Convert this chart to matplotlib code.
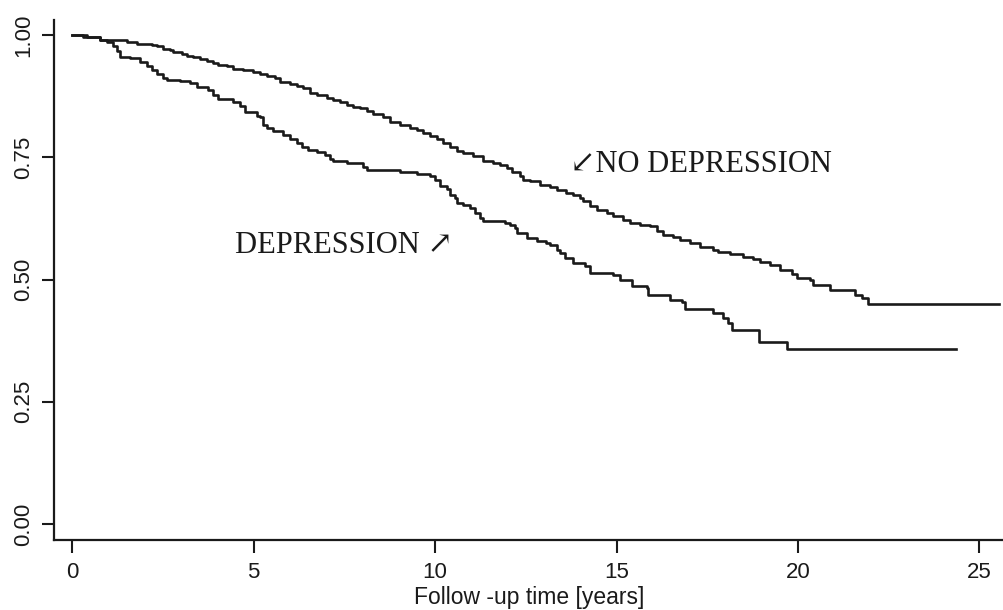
import matplotlib
matplotlib.use("Agg")
import matplotlib.pyplot as plt

# Kaplan-Meier style survival curves (time in years, survival)
t_nodep = [0.0, 0.30, 0.76, 1.13, 1.50, 1.77, 2.19, 2.33, 2.51, 2.69, 2.78, 3.02, 3.15,
           3.34, 3.52, 3.70, 3.89, 4.02, 4.26, 4.44, 4.71, 4.99, 5.17, 5.36, 5.59, 5.72,
           6.00, 6.18, 6.37, 6.55, 6.74, 7.01, 7.19, 7.38, 7.56, 7.75, 7.93, 8.11, 8.30,
           8.57, 8.76, 9.03, 9.31, 9.49, 9.67, 9.86, 10.04, 10.23, 10.41, 10.60, 10.78,
           11.05, 11.33, 11.60, 11.79, 11.97, 12.11, 12.34, 12.43, 12.62, 12.89, 13.17,
           13.35, 13.62, 13.81, 13.99, 14.08, 14.27, 14.45, 14.73, 14.91, 15.19, 15.37,
           15.65, 15.92, 16.11, 16.29, 16.57, 16.75, 17.03, 17.30, 17.67, 17.81, 18.13,
           18.50, 18.77, 18.96, 19.23, 19.51, 19.83, 19.97, 20.33, 20.42, 20.88, 21.57,
           21.76, 21.94, 25.55]
s_nodep = [1.000, 0.997, 0.991, 0.990, 0.985, 0.982, 0.980, 0.977, 0.971, 0.969, 0.965,
           0.962, 0.958, 0.955, 0.951, 0.948, 0.944, 0.939, 0.936, 0.930, 0.928, 0.924,
           0.921, 0.917, 0.912, 0.905, 0.900, 0.896, 0.892, 0.881, 0.878, 0.871, 0.868,
           0.864, 0.858, 0.853, 0.851, 0.844, 0.839, 0.832, 0.823, 0.817, 0.810, 0.806,
           0.800, 0.793, 0.787, 0.780, 0.772, 0.764, 0.759, 0.753, 0.742, 0.738, 0.735,
           0.728, 0.721, 0.711, 0.704, 0.701, 0.694, 0.689, 0.684, 0.678, 0.673, 0.667,
           0.660, 0.650, 0.643, 0.636, 0.630, 0.622, 0.615, 0.612, 0.609, 0.600, 0.592,
           0.587, 0.581, 0.575, 0.567, 0.561, 0.556, 0.553, 0.547, 0.542, 0.535, 0.529,
           0.519, 0.512, 0.503, 0.500, 0.488, 0.479, 0.469, 0.462, 0.450, 0.450]

t_dep = [0.0, 0.40, 0.76, 0.95, 1.13, 1.22, 1.31, 1.59, 1.87, 2.05, 2.19, 2.33, 2.51,
         2.60, 2.97, 3.24, 3.43, 3.75, 3.89, 4.02, 4.44, 4.62, 4.76, 5.08, 5.17, 5.27,
         5.36, 5.54, 5.82, 6.00, 6.18, 6.32, 6.50, 6.74, 6.97, 7.10, 7.19, 7.56, 8.02,
         8.11, 9.03, 9.49, 9.86, 10.00, 10.14, 10.32, 10.41, 10.55, 10.60, 10.78, 10.96,
         11.10, 11.24, 11.33, 11.93, 12.06, 12.20, 12.25, 12.52, 12.80, 13.07, 13.17,
         13.35, 13.44, 13.58, 13.81, 14.13, 14.27, 14.91, 15.10, 15.42, 15.83, 15.88,
         16.47, 16.80, 16.89, 17.67, 17.94, 18.08, 18.19, 18.93, 19.71, 24.36]
s_dep = [1.000, 0.997, 0.990, 0.985, 0.977, 0.967, 0.956, 0.953, 0.946, 0.937, 0.929,
         0.921, 0.912, 0.909, 0.907, 0.902, 0.894, 0.888, 0.878, 0.869, 0.864, 0.855,
         0.842, 0.835, 0.832, 0.817, 0.810, 0.803, 0.796, 0.787, 0.780, 0.772, 0.766,
         0.760, 0.755, 0.746, 0.742, 0.738, 0.731, 0.725, 0.721, 0.716, 0.711, 0.704,
         0.692, 0.685, 0.673, 0.667, 0.656, 0.653, 0.646, 0.636, 0.626, 0.619, 0.615,
         0.612, 0.605, 0.595, 0.585, 0.578, 0.575, 0.571, 0.561, 0.554, 0.544, 0.534,
         0.527, 0.513, 0.510, 0.500, 0.486, 0.483, 0.469, 0.459, 0.455, 0.440, 0.431,
         0.421, 0.411, 0.397, 0.373, 0.358, 0.358]

x_ticks = [0, 5, 10, 15, 20, 25]
y_ticks = [0.00, 0.25, 0.50, 0.75, 1.00]

plt.rcParams['font.family'] = ['Liberation Sans', 'DejaVu Sans']

fig = plt.figure(figsize=(10.04, 6.10), dpi=100)
ax = fig.add_axes([54 / 1004, 70 / 610, 950 / 1004, 520 / 610])

ax.step(t_nodep, s_nodep, where='post', color='#1a1a1a', lw=1.9)
ax.step(t_dep, s_dep, where='post', color='#1a1a1a', lw=1.9)

ax.set_xlim(-0.504, 25.68)
ax.set_ylim(-0.0327, 1.031)

for side in ['top', 'right']:
    ax.spines[side].set_visible(False)
for side in ['left', 'bottom']:
    ax.spines[side].set_linewidth(1.6)
    ax.spines[side].set_color('#1a1a1a')

ax.set_xticks(x_ticks)
ax.set_xticklabels([str(v) for v in x_ticks])
ax.set_yticks(y_ticks)
ax.set_yticklabels(['%.2f' % v for v in y_ticks], rotation=90, va='center')
ax.tick_params(axis='both', direction='out', length=9, width=1.5, color='#1a1a1a',
               labelsize=16, labelcolor='#1a1a1a')
ax.tick_params(axis='x', pad=7)
ax.tick_params(axis='y', pad=5)

ax.set_xlabel('Follow -up time [years]', fontsize=16.5, color='#1a1a1a', labelpad=2)

serif = ['Liberation Serif', 'DejaVu Serif']
ax.text(4.48, 0.555, 'DEPRESSION \u2197', family=serif, fontsize=22,
        color='#1a1a1a', ha='left', va='baseline')
ax.text(13.72, 0.721, '\u2199NO DEPRESSION', family=serif, fontsize=22,
        color='#1a1a1a', ha='left', va='baseline')

fig.savefig('out.png', dpi=100)
